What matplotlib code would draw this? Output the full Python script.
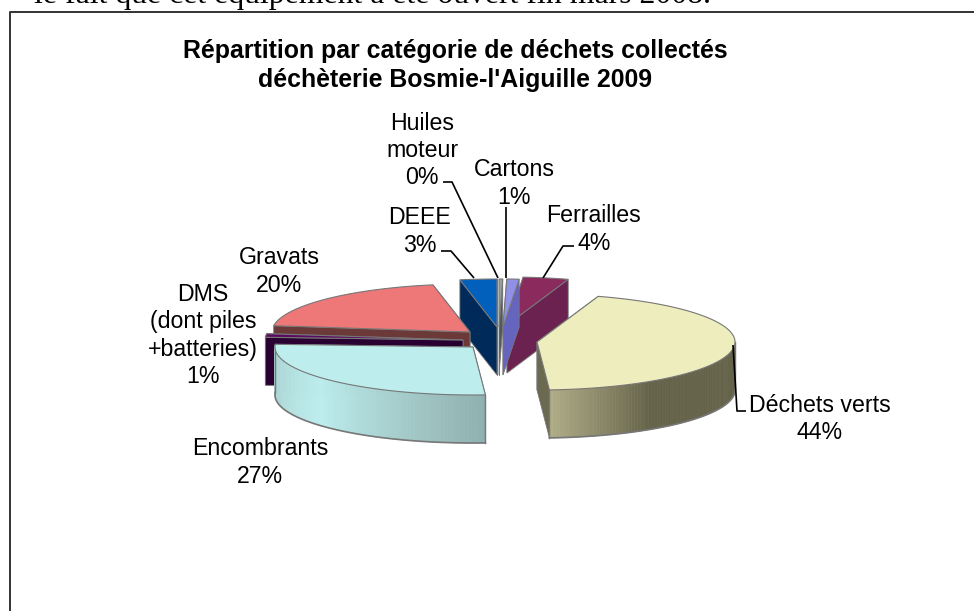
import numpy as np
import matplotlib
matplotlib.use('Agg')
import matplotlib.pyplot as plt
from matplotlib.colors import to_rgb
from matplotlib.patches import Polygon

# Chart values
categories = ['Déchets verts', 'Encombrants', 'DMS\n(dont piles\n+batteries)', 'Gravats',
              'DEEE', 'Huiles\nmoteur', 'Cartons', 'Ferrailles']
shares = [44.0, 26.9, 1.2, 19.9, 3.0, 0.3, 1.0, 3.7]

# Styles
top_colours = ['#eeedbd', '#bdeded', '#5a0a60', '#ee7777', '#0060bb', '#9aa0a0', '#9090e6', '#8b2a5c']
face_colours = ['#6b6a50', '#8fb0ae', '#2a0033', '#6b3a38', '#002a5a', '#505858', '#6565c0', '#6b2250']
# explode offset of each slice, in pixels
explode_x = [37, -27, -37, -30, -3, -1, 3, 7]
explode_y = [15, 20, 13, 5, 0, 0, 0, -2]
# outer wall shading: angle stops and colours
wall_shades = {
    0: ([90, 145, 176], ['#656349', '#656349', '#b0ad88']),
    1: ([176, 230, 273], ['#8fb0ae', '#bdeded', '#a8cfce']),
}
draw_order = [7, 6, 5, 4, 3, 2, 0, 1]

# Labels: centre position of each block, in pixels
label_x = [820, 260, 203, 279, 420, 422, 514, 594]
label_y = [419, 462.5, 335.5, 271.5, 231.5, 150.5, 183.5, 229.5]
leaders = [
    [(733, 345), (737, 411), (746, 411)],
    [(441, 251), (451, 251), (474, 278)],
    [(443, 182), (452, 182), (498, 278)],
    [(506, 207), (506, 278)],
    [(574, 246), (563, 246), (543, 278)],
]

CX, CY = 500, 327
RX, RY = 198, 48
DEPTH = 48
START = 18
GREY = '#777777'
SANS = 'Liberation Sans'


def rim(t, ax_x, ax_y):
    rad = np.radians(t)
    return ax_x + RX * np.sin(rad), ax_y - RY * np.cos(rad)


fig = plt.figure(figsize=(9.74, 6.11), dpi=100)
ax = fig.add_axes([0, 0, 1, 1])
ax.set_xlim(0, 974)
ax.set_ylim(611, 0)
ax.axis('off')

# Slices from the values
edges = START + np.cumsum([0] + shares) * 3.6
for i in draw_order:
    t0, t1 = edges[i], edges[i + 1]
    a_x, a_y = CX + explode_x[i], CY + explode_y[i]
    ts = np.linspace(t0, t1, max(int(t1 - t0), 2) + 1)
    xs, ys = rim(ts, a_x, a_y)
    z = 2 + draw_order.index(i)

    # cut faces, the one nearer the viewer last
    for t in sorted((t0, t1), key=lambda a: rim(a, a_x, a_y)[1]):
        e_x, e_y = rim(t, a_x, a_y)
        ax.add_patch(Polygon([(a_x, a_y), (e_x, e_y), (e_x, e_y + DEPTH), (a_x, a_y + DEPTH)],
                             fc=face_colours[i], ec=GREY, lw=0.6, zorder=z))

    # outer wall, front part only
    lo, hi = max(t0, 90), min(t1, 273)
    if hi > lo:
        wt = np.linspace(lo, hi, int(hi - lo) + 2)
        wx, wy = rim(wt, a_x, a_y)
        stops, cols = wall_shades.get(i, ([lo, hi], [face_colours[i]] * 2))
        rgb = np.array([to_rgb(c) for c in cols])
        for k in range(len(wt) - 1):
            c = [np.interp(wt[k], stops, rgb[:, j]) for j in range(3)]
            ax.add_patch(Polygon([(wx[k], wy[k]), (wx[k + 1], wy[k + 1]),
                                  (wx[k + 1], wy[k + 1] + DEPTH), (wx[k], wy[k] + DEPTH)],
                                 fc=c, ec=c, lw=0.5, zorder=z))
        ax.plot(wx, wy + DEPTH, color=GREY, lw=1.2, zorder=z + 0.5)
        ax.plot([wx[0], wx[0]], [wy[0], wy[0] + DEPTH], color=GREY, lw=1, zorder=z + 0.5)
        ax.plot([wx[-1], wx[-1]], [wy[-1], wy[-1] + DEPTH], color=GREY, lw=1, zorder=z + 0.5)

    # top face
    ax.add_patch(Polygon(np.column_stack([np.r_[a_x, xs], np.r_[a_y, ys]]),
                         fc=top_colours[i], ec=GREY, lw=0.8, zorder=z + 0.7))

# Leaders
for pts in leaders:
    ax.plot(*zip(*pts), color='black', lw=1.2, zorder=20, solid_capstyle='butt')

# Labels
for name, share, x, y in zip(categories, shares, label_x, label_y):
    ax.text(x, y, f'{name}\n{round(share)}%', ha='center', va='center', family=SANS,
            fontsize=16.7, linespacing=1.25, color='black', zorder=21)

ax.text(455, 51, 'Répartition par catégorie de déchets collectés', ha='center', va='center',
        family=SANS, fontsize=17.9, fontweight='bold')
ax.text(455, 80, "déchèterie Bosmie-l'Aiguille 2009", ha='center', va='center',
        family=SANS, fontsize=17.9, fontweight='bold')

# Chart frame (only left and top edges are in the picture) and the page text above it
ax.plot([9.5, 9.5, 974], [611, 12, 12], color='#333333', lw=1.4, zorder=30)
ax.text(34, 2.5, 'le fait que cet équipement a été ouvert fin mars 2008.', ha='left', va='baseline',
        family='Liberation Serif', fontsize=22.9, color='black')

fig.savefig('out.png', dpi=100)
